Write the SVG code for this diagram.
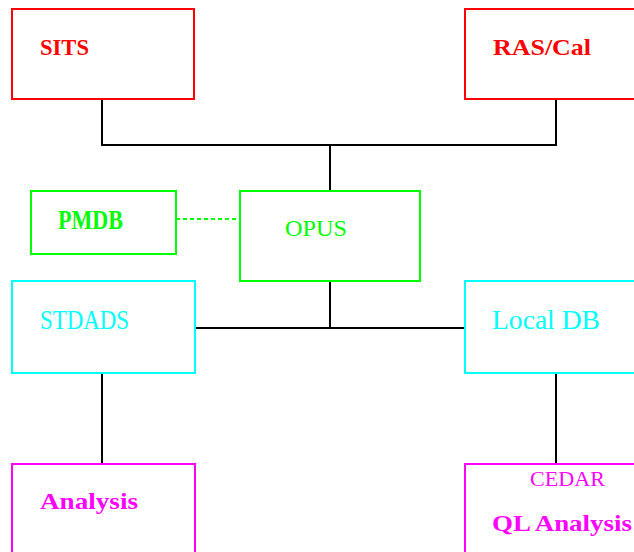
<svg xmlns="http://www.w3.org/2000/svg" width="634" height="552" viewBox="0 0 634 552">
<style>
  .box { fill: none; stroke-width: 2; }
  .red { stroke: #ff0000; }
  .green { stroke: #00ff00; }
  .cyan { stroke: #00ffff; }
  .mag { stroke: #ff00ff; }
  .t { font-family: "Liberation Serif", "Times New Roman", serif; font-size: 24px; }
  .tr { fill: #ff0000; font-weight: bold; }
  .tg { fill: #00ff00; }
  .tc { fill: #00ffff; }
  .tm { fill: #ff00ff; font-weight: bold; }
  .conn { fill: none; stroke: #000000; stroke-width: 2; }
  .dot { fill: none; stroke: #00ff00; stroke-width: 2; stroke-dasharray: 4 3; }
</style>
<rect width="634" height="552" fill="#ffffff"/>
<g id="connectors">
  <path class="conn" d="M102,99 V145 H556 V99"/>
  <path class="conn" d="M330,145 V191"/>
  <path class="conn" d="M330,281 V328"/>
  <path class="conn" d="M195,328 H465"/>
  <path class="conn" d="M102,373 V464"/>
  <path class="conn" d="M556,373 V464"/>
  <path class="dot" d="M176,219 H240"/>
</g>
<g id="sits">
  <rect class="box red" x="12" y="9" width="182" height="90"/>
  <text class="t tr" x="40" y="55" textLength="49" lengthAdjust="spacingAndGlyphs">SITS</text>
</g>
<g id="rascal">
  <rect class="box red" x="465" y="9" width="185" height="90"/>
  <text class="t tr" x="493" y="55" textLength="98" lengthAdjust="spacingAndGlyphs">RAS/Cal</text>
</g>
<g id="pmdb">
  <rect class="box green" x="31" y="191" width="145" height="63"/>
  <text class="t tg" x="58" y="229" font-weight="bold" style="font-size:27px" textLength="65" lengthAdjust="spacingAndGlyphs">PMDB</text>
</g>
<g id="opus">
  <rect class="box green" x="240" y="191" width="180" height="90"/>
  <text class="t tg" x="285" y="236" textLength="62" lengthAdjust="spacingAndGlyphs">OPUS</text>
</g>
<g id="stdads">
  <rect class="box cyan" x="12" y="281" width="183" height="92"/>
  <text class="t tc" x="40" y="329" style="font-size:27px" textLength="89" lengthAdjust="spacingAndGlyphs">STDADS</text>
</g>
<g id="localdb">
  <rect class="box cyan" x="465" y="281" width="185" height="92"/>
  <text class="t tc" x="492" y="329" style="font-size:27px" textLength="108" lengthAdjust="spacingAndGlyphs">Local DB</text>
</g>
<g id="analysis">
  <rect class="box mag" x="12" y="464" width="183" height="100"/>
  <text class="t tm" x="40" y="509" textLength="98" lengthAdjust="spacingAndGlyphs">Analysis</text>
</g>
<g id="cedar">
  <rect class="box mag" x="465" y="464" width="185" height="100"/>
  <text class="t tm" x="530" y="486" style="font-size:22px;font-weight:normal" textLength="75" lengthAdjust="spacingAndGlyphs">CEDAR</text>
  <text class="t tm" x="492" y="531" textLength="140" lengthAdjust="spacingAndGlyphs">QL Analysis</text>
</g>
</svg>
